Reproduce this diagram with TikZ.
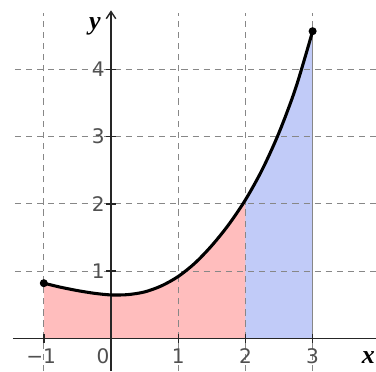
\documentclass[tikz,border=0pt]{standalone}
\usepackage{fontspec}
\newfontfamily\lblfont{DejaVu Sans}
\newfontfamily\varfont{Liberation Serif}
\usetikzlibrary{arrows.meta}
\definecolor{pinkfill}{RGB}{255,189,189}
\definecolor{bluefill}{RGB}{193,203,248}
\definecolor{gridgray}{RGB}{135,135,135}
\definecolor{lblgray}{RGB}{80,80,80}
\begin{document}
\begin{tikzpicture}[x=1cm,y=1cm,
  gridline/.style={gridgray, line width=0.45pt, dash pattern=on 2.6pt off 2.1pt},
  edgeline/.style={gridgray, line width=0.45pt},
  axisline/.style={black!85, line width=0.6pt},
  tickmark/.style={black!85, line width=0.6pt},
  ticklbl/.style={font=\lblfont\fontsize{8.5}{10}\selectfont, text=lblgray, inner sep=0.5pt},
  varlbl/.style={font=\varfont\bfseries\itshape\fontsize{11}{12}\selectfont, inner sep=0pt},
  curveline/.style={black, line width=1.3pt},
  enddot/.style={circle, fill=black, inner sep=0pt, minimum size=3.4pt}]
\useasboundingbox (-1.652,-0.487) rectangle (3.943,5.034);
\def\curvepts{(-1,0.82) (-0.75,0.76) (-0.5,0.71) (-0.25,0.67) (0,0.645) (0.25,0.65) (0.5,0.69) (0.75,0.78) (1,0.92) (1.25,1.12) (1.5,1.38) (1.75,1.69) (2,2.06) (2.25,2.51) (2.5,3.06) (2.75,3.73) (3,4.57)}
% fills
\fill[pinkfill] (-1,0) -- plot[smooth] coordinates {\curvepts} -- (3,0) -- cycle;
\begin{scope}
  \clip (2,-1) rectangle (3.5,6);
  \fill[bluefill] (-1,0) -- plot[smooth] coordinates {\curvepts} -- (3,0) -- cycle;
\end{scope}
% grid
\foreach \gx in {-1,1,2,3} \draw[gridline] (\gx,-0.487) -- (\gx,4.84);
\foreach \gy in {1,2,3,4} \draw[gridline] (-1.43,\gy) -- (3.943,\gy);
\draw[edgeline] (3,0) -- (3,4.57);
% axes
\coordinate (xs) at (-1.46,0);
\coordinate (xe) at (3.943,0);
\coordinate (ys) at (0,-0.487);
\coordinate (ye) at (0,4.88);
\draw[axisline] (xs) -- (xe);
\draw[axisline, -{Straight Barb[length=3pt,width=4pt]}] (ys) -- (ye);
\foreach \gx in {-1,1,2,3} \draw[tickmark] (\gx,-0.07) -- (\gx,0.07);
\foreach \gy in {1,2,3,4} \draw[tickmark] (-0.075,\gy) -- (0.075,\gy);
% labels
\foreach \gy in {1,2,3,4} \node[ticklbl, anchor=east] (yl\gy) at (-0.07,\gy) {\gy};
\node[ticklbl] (xlm1) at (-1.04,-0.26) {−1};
\node[ticklbl] (xl0) at (-0.12,-0.26) {0};
\node[ticklbl] (xl1) at (1,-0.26) {1};
\node[ticklbl] (xl2) at (2,-0.26) {2};
\node[ticklbl] (xl3) at (3,-0.26) {3};
\node[varlbl] (ylab) at (-0.24,4.64) {y};
\node[varlbl] (xlab) at (3.83,-0.29) {x};
% curve
\node[enddot] (p1) at (-1,0.82) {};
\node[enddot] (p2) at (3,4.57) {};
\draw[curveline] plot[smooth] coordinates {\curvepts};
\end{tikzpicture}
\end{document}
